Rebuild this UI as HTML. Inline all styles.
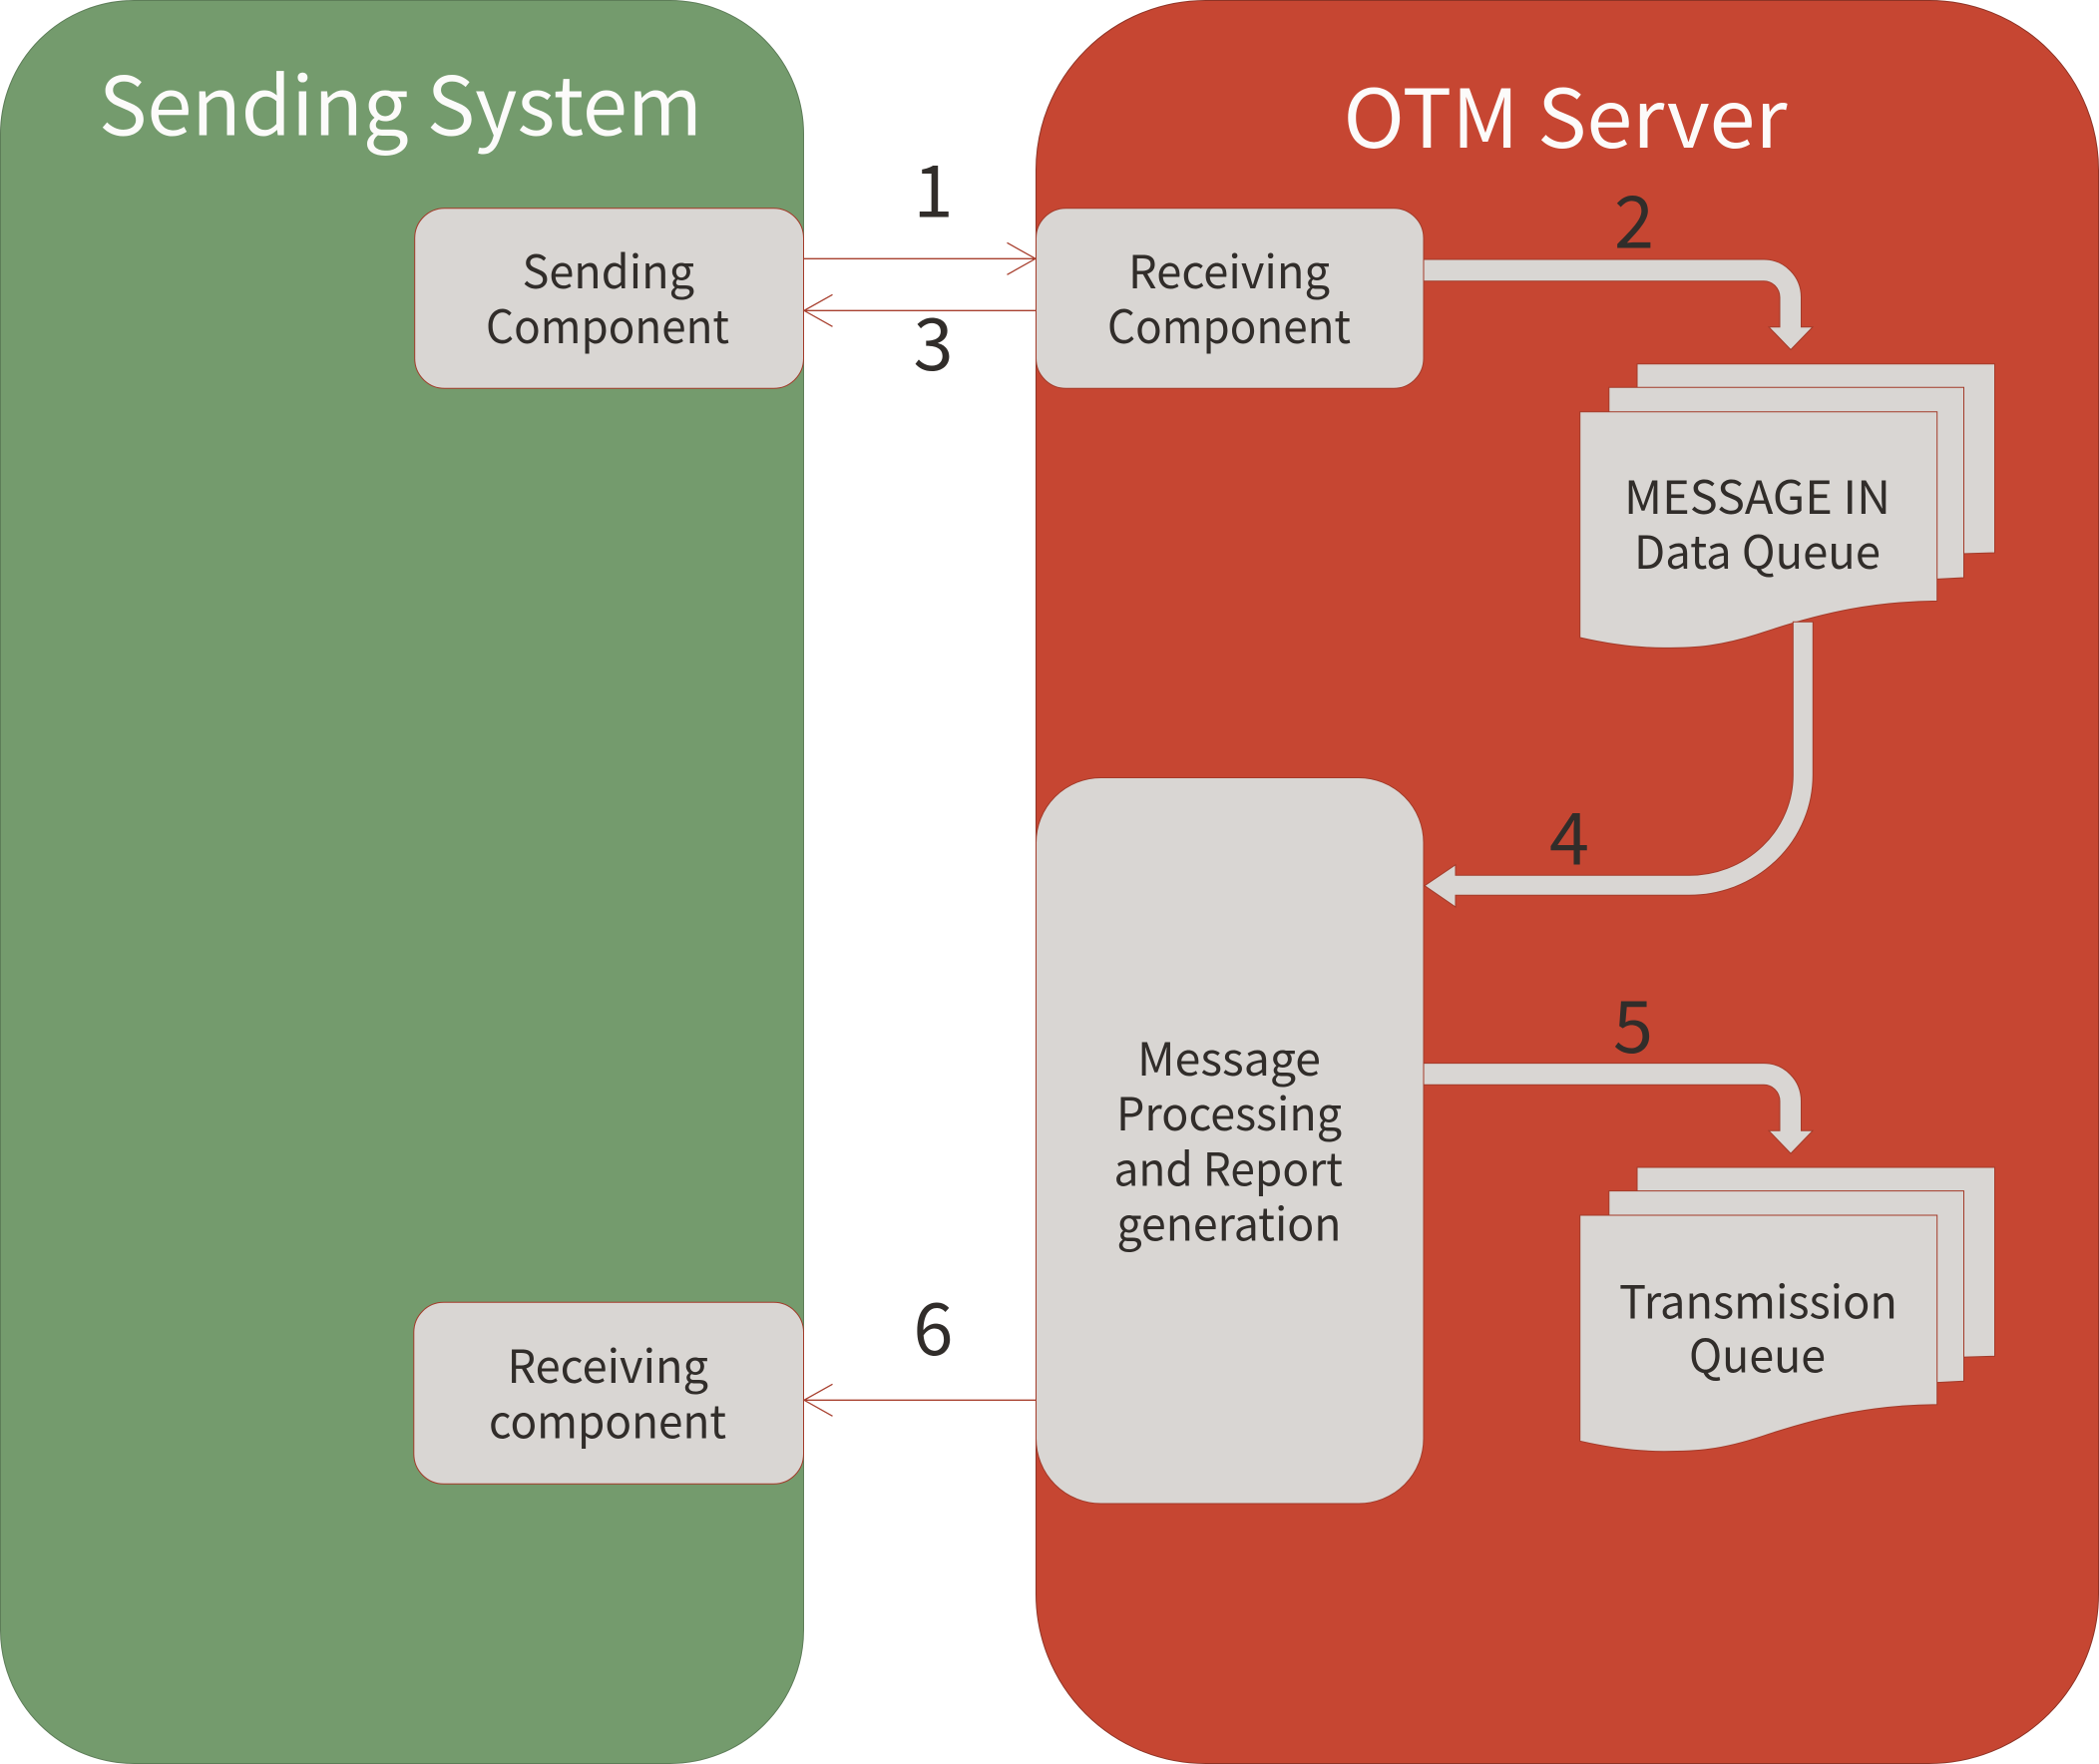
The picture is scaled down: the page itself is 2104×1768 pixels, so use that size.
<!DOCTYPE html>
<html><head><meta charset="utf-8"><style>
html,body{margin:0;padding:0;background:#fff}
svg{display:block}
text{font-family:"Noto Sans CJK SC","Liberation Sans",sans-serif;fill:#312D2A}
.w{fill:#FCFBFA;font-size:81px}
.t{font-size:46px}
.n{font-size:72px}
.s{fill:#D9D6D3;stroke:#A33B2A;stroke-width:1}
.l{stroke:#A8402F;stroke-width:1.3;fill:none}
</style></head><body>
<svg width="2104" height="1768" viewBox="0 0 2104 1768" xmlns="http://www.w3.org/2000/svg">
<rect x="0.5" y="0.5" width="805" height="1767" rx="134" ry="134" fill="#749B6D" stroke="#5D7D58" stroke-width="1"/>
<rect x="1038.5" y="0.5" width="1065" height="1767" rx="170" ry="170" fill="#C64632" stroke="#8E3325" stroke-width="1"/>

<text class="w" x="99" y="135.5" textLength="605" lengthAdjust="spacingAndGlyphs">Sending System</text>
<text class="w" x="1346.5" y="148" textLength="445" lengthAdjust="spacingAndGlyphs">OTM Server</text>

<rect class="s" x="415.7" y="208.7" width="389.8" height="180.6" rx="30"/>
<rect class="s" x="414.8" y="1305.3" width="390.7" height="182" rx="30"/>
<rect class="s" x="1038.5" y="208.7" width="388.5" height="180.6" rx="30"/>
<rect class="s" x="1038.5" y="779.5" width="388.5" height="727.5" rx="65"/>

<text class="t" x="523.5" y="289" textLength="172.5" lengthAdjust="spacingAndGlyphs">Sending</text>
<text class="t" x="487" y="344" textLength="244" lengthAdjust="spacingAndGlyphs">Component</text>
<text class="t" x="508.5" y="1386" textLength="201.5" lengthAdjust="spacingAndGlyphs">Receiving</text>
<text class="t" x="490" y="1441.5" textLength="238" lengthAdjust="spacingAndGlyphs">component</text>
<text class="t" x="1131" y="289" textLength="202" lengthAdjust="spacingAndGlyphs">Receiving</text>
<text class="t" x="1110" y="344" textLength="244" lengthAdjust="spacingAndGlyphs">Component</text>
<text class="t" x="1140" y="1078" textLength="184" lengthAdjust="spacingAndGlyphs">Message</text>
<text class="t" x="1119" y="1133" textLength="226" lengthAdjust="spacingAndGlyphs">Processing</text>
<text class="t" x="1116.5" y="1188.5" textLength="229.5" lengthAdjust="spacingAndGlyphs">and Report</text>
<text class="t" x="1119.5" y="1243.5" textLength="225" lengthAdjust="spacingAndGlyphs">generation</text>

<g id="d">
<path class="s" d="M1641,364.7 H1999.5 V554 L1950,555.5 L1641,560 Z"/>
<path class="s" d="M1612.8,388.3 H1968.5 V579 L1930,581 L1612.8,590 Z"/>
<path class="s" d="M1583.7,412.7 H1941.7 V602.4 C1880,603 1830,613 1767,634 C1725,648 1700,649.4 1668,649.4 C1640,649.4 1610,645 1583.7,639 Z"/>
</g>
<use href="#d" transform="translate(0,805.3)"/>

<text class="t" x="1628" y="515" textLength="267" lengthAdjust="spacingAndGlyphs">MESSAGE IN</text>
<text class="t" x="1638" y="570" textLength="247" lengthAdjust="spacingAndGlyphs">Data Queue</text>
<text class="t" x="1623" y="1321.5" textLength="279" lengthAdjust="spacingAndGlyphs">Transmission</text>
<text class="t" x="1693" y="1375.5" textLength="137" lengthAdjust="spacingAndGlyphs">Queue</text>

<path id="a" class="s" d="M1427,260 H1768 A37.5,38 0 0 1 1805.5,298 V327.7 H1817 L1795,350.5 L1773,327.7 H1784 V298 A16,16.3 0 0 0 1768,281.7 H1427 Z"/>
<use href="#a" transform="translate(0,805.6)"/>
<path class="s" d="M1817.3,623.3 V776.7 A124,120.6 0 0 1 1693,897.3 H1459 V909 L1428,887.7 L1459,866.7 V877.3 H1693 A104,100.6 0 0 0 1797.3,776.7 V623.3 Z"/>

<path class="l" d="M805.5,259.3 H1038 M1009.5,243.3 L1038,259.3 L1009.5,275.3"/>
<path class="l" d="M1038.5,311.3 H806 M834.5,295.3 L806,311.3 L834.5,327.3"/>
<path class="l" d="M1038.5,1403.3 H806 M834.5,1387.3 L806,1403.3 L834.5,1419.3"/>

<text class="n" x="915.5" y="217.7">1</text>
<text class="n" x="1618" y="248.3">2</text>
<text class="n" x="915.5" y="371">3</text>
<text class="n" x="1553" y="866.7">4</text>
<text class="n" x="1617" y="1055">5</text>
<text class="n" x="915.5" y="1358">6</text>
</svg>
</body></html>
